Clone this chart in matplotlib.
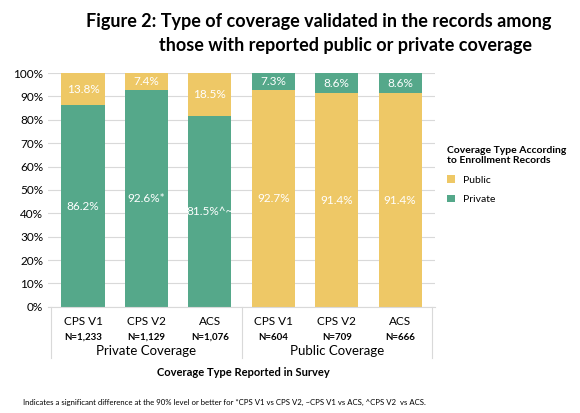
import matplotlib
matplotlib.use("Agg")
import matplotlib.pyplot as plt

cats = ["CPS V1", "CPS V2", "ACS", "CPS V1", "CPS V2", "ACS"]
ns = ["N=1,233", "N=1,129", "N=1,076", "N=604", "N=709", "N=666"]
private = [86.2, 92.6, 81.5, 7.3, 8.6, 8.6]
public = [13.8, 7.4, 18.5, 92.7, 91.4, 91.4]
priv_lbl = ["86.2%", "92.6%*", "81.5%^~", "7.3%", "8.6%", "8.6%"]
pub_lbl = ["13.8%", "7.4%", "18.5%", "92.7%", "91.4%", "91.4%"]
groups = ["Private Coverage", "Public Coverage"]

plt.rcParams['font.family'] = ['Lato', 'DejaVu Sans']
green = "#55A88A"; yellow = "#EEC866"
fig = plt.figure(figsize=(5.8, 4.13), dpi=100)
ax = fig.add_axes([0.083, 0.257, 0.667, 0.566])
x = list(range(6))
px, pv, pl = x[:3], private[:3], public[:3]
qx, qv, ql = x[3:], private[3:], public[3:]
ax.bar(px, pv, width=0.68, color=green, label="Private")
ax.bar(px, pl, width=0.68, bottom=pv, color=yellow)
ax.bar(qx, ql, width=0.68, color=yellow, label="Public")
ax.bar(qx, qv, width=0.68, bottom=ql, color=green)
for i in x:
    if i < 3:
        ax.text(i, private[i]/2, priv_lbl[i], ha="center", va="center", color="white", fontsize=8.5)
        ax.text(i, private[i] + public[i]/2, pub_lbl[i], ha="center", va="center", color="white", fontsize=8.5)
    else:
        ax.text(i, public[i]/2, pub_lbl[i], ha="center", va="center", color="white", fontsize=8.5)
        ax.text(i, public[i] + private[i]/2, priv_lbl[i], ha="center", va="center", color="white", fontsize=8.5)
ax.set_ylim(0, 100)
ax.set_xlim(-0.55, 5.55)
ax.set_yticks(range(0, 101, 10))
ax.set_yticklabels([f"{v}%" for v in range(0, 101, 10)], fontsize=8.5)
ax.yaxis.grid(True, color="#d9d9d9", lw=0.8)
ax.set_axisbelow(True)
for s in ["top", "right", "left"]:
    ax.spines[s].set_visible(False)
ax.spines["bottom"].set_color("#d9d9d9")
ax.tick_params(length=0)
ax.set_xticks(x)
ax.set_xticklabels(["" for _ in x])
for i in x:
    ax.text(i, -4, cats[i], ha="center", va="top", fontsize=8.5, clip_on=False)
    ax.text(i, -11, ns[i], ha="center", va="top", fontsize=7, fontweight="bold", clip_on=False)
ax.text(1, -16.5, groups[0], ha="center", va="top", fontsize=9.5, clip_on=False)
ax.text(4, -16.5, groups[1], ha="center", va="top", fontsize=9.5, clip_on=False)
for xv in [-0.5, 2.5, 5.5]:
    ax.plot([xv, xv], [0, -22], color="#d9d9d9", lw=0.8, clip_on=False)
fig.text(0.42, 0.097, "Coverage Type Reported in Survey", ha="center", va="center", fontsize=8, fontweight="bold")
fig.text(0.04, 0.02, "Indicates a significant difference at the 90% level or better for *CPS V1 vs CPS V2, ~CPS V1 vs ACS, ^CPS V2  vs ACS.", fontsize=5.6)
fig.text(0.55, 0.947, "Figure 2: Type of coverage validated in the records among", ha="center", va="center", fontsize=13, fontweight="bold")
fig.text(0.595, 0.89, "those with reported public or private coverage", ha="center", va="center", fontsize=13, fontweight="bold")
h, l = ax.get_legend_handles_labels()
leg = fig.legend(h[::-1], l[::-1], loc="upper left", bbox_to_anchor=(0.755, 0.67), frameon=False,
                 title="Coverage Type According\nto Enrollment Records", fontsize=7.5, title_fontsize=7.5,
                 handlelength=0.7, handleheight=0.7, alignment="left", labelspacing=1.0)
leg.get_title().set_fontweight("bold")
fig.savefig("out.png", dpi=100)
